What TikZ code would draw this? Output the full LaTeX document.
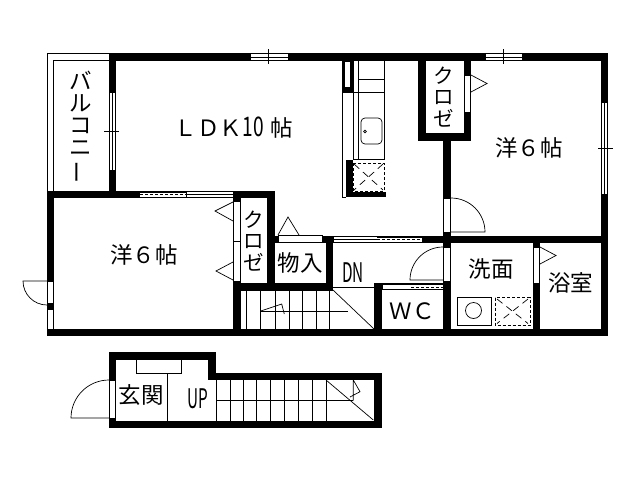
\documentclass[tikz,border=0pt]{standalone}
\usepackage{fontspec}
\newfontfamily\jpfont{Noto Sans CJK JP}
\newcommand{\halfw}[2][.68]{\scalebox{#1}[1.2]{#2}}
\newcommand{\tatebar}{\rotatebox[origin=c]{90}{ー}}
\tikzset{
	wall/.style={fill=black,draw=none},
	thin line/.style={draw=black,line width=.7pt},
	pane/.style={fill=white,draw=black,line width=.7pt},
	dash line/.style={draw=black,line width=.8pt,dash pattern=on 3pt off 2pt},
	cross line/.style={draw=black,line width=.7pt,dash pattern=on 7pt off 5pt},
	room/.style={font=\jpfont\fontsize{22.5}{22}\selectfont,inner sep=0pt,align=center},
	small room/.style={room,font=\jpfont\fontsize{20.5}{21.5}\selectfont},
}
\begin{document}
\begin{tikzpicture}[x=1pt,y=-1pt]
	\useasboundingbox[fill=white] (0,0) rectangle (640,480);
	% balcony
	\draw[thin line] (109,53.5) -- (47.5,53.5) -- (47.5,191);
	\draw[thin line] (109,60.5) -- (53.5,60.5) -- (53.5,191);
	% main walls
	\fill[wall] (109,53) rectangle (608,61);
	\fill[wall] (601,53) rectangle (608,336);
	\fill[wall] (47,329) rectangle (608,336);
	\fill[wall] (47,191) rectangle (54,336);
	\fill[wall] (109,53) rectangle (116,198);
	\fill[wall] (47,191) rectangle (275,198);
	\fill[wall] (233,191) rectangle (240.5,336);
	\fill[wall] (267,191) rectangle (275,291);
	\fill[wall] (233,283) rectangle (333,291);
	\fill[wall] (326,236) rectangle (333,291);
	\fill[wall] (275,236) rectangle (608,243);
	\fill[wall] (374,283) rectangle (382,336);
	\fill[wall] (382,283) rectangle (451,290);
	\fill[wall] (443,141) rectangle (451,336);
	\fill[wall] (418,61) rectangle (426,141);
	\fill[wall] (418,133) rectangle (471,141);
	\fill[wall] (464,61) rectangle (471,141);
	\fill[wall] (533,243) rectangle (540,336);
	% windows
	\foreach \xa/\xb/\xt in {250/288/268,485/522/503}{
		\filldraw[pane] (\xa,53.5) rectangle (\xb,60.5);
		\draw[thin line] (\xa,57) -- (\xb,57);
		\draw[thin line] (\xt,49) -- (\xt,64);
	}
	\filldraw[pane] (109.5,92) rectangle (115.5,170);
	\draw[thin line] (112.5,92) -- (112.5,170);
	\draw[thin line] (104,131) -- (119,131);
	\filldraw[pane] (601.5,102) rectangle (607.5,194);
	\draw[thin line] (604.5,102) -- (604.5,194);
	\draw[thin line] (598,148) -- (613,148);
	\foreach \xa/\xb/\ya in {186/233/191.5,333/377/236.5}{
		\filldraw[pane] (\xa,\ya) rectangle (\xb,\ya+6);
		\draw[thin line] (\xa,\ya+3) -- (\xb,\ya+3);
	}
	\fill[white] (140,192.5) rectangle (186,196.5);
	\draw[dash line] (140,194.5) -- (186,194.5);
	\fill[white] (377,237.5) rectangle (422,241.5);
	\draw[dash line] (377,239.5) -- (422,239.5);
	\filldraw[pane] (382,284) rectangle (411,289.5);
	\fill[white] (411,285) rectangle (443,289);
	\draw[dash line] (411,287) -- (443,287);
	% sliding doors
	\filldraw[pane] (233.5,201) rectangle (240,241.5);
	\filldraw[pane] (233.5,241.5) rectangle (240,281);
	\filldraw[pane] (278,235.5) rectangle (322,242);
	\filldraw[pane] (464.5,75) rectangle (470.5,112);
	\filldraw[pane] (443.5,198) rectangle (450.5,232);
	\filldraw[pane] (443.5,247) rectangle (450.5,281);
	\filldraw[pane] (533.5,247) rectangle (539.5,283);
	\filldraw[pane] (47.5,281) rectangle (53.5,303);
	\filldraw[pane] (47.5,309) rectangle (53.5,329);
	\draw[thin line] (233,202) -- (215,211) -- (233,221);
	\draw[thin line] (233,262) -- (216,271) -- (233,280);
	\draw[thin line] (278,235) -- (288,217) -- (299,235);
	\draw[thin line] (471,75) -- (487,83.5) -- (471,92);
	\draw[thin line] (540,247) -- (556,255.5) -- (540,264);
	% door swings
	\draw[thin line] (451,198) arc[start angle=270,end angle=360,radius=34] -- (451,232);
	\draw[thin line] (443,247) arc[start angle=270,end angle=180,radius=33] -- (443,280);
	\draw[thin line] (47,305) arc[start angle=90,end angle=180,radius=24] -- (47,281);
	% kitchen
	\draw[thin line] (343,61) rectangle (353,92);
	\fill[wall] (342,61) rectangle (345,92);
	\fill[wall] (350,61) rectangle (353,92);
	\fill[wall] (342,87) rectangle (353,92);
	\draw[thin line] (342.5,92) -- (342.5,197) -- (346,197);
	\draw[thin line] (353,92) rectangle (384,159.5);
	\draw[thin line] (358.5,61) -- (358.5,159.5);
	\draw[thin line] (384,61) -- (384,159.5);
	\draw[thin line] (358.5,79.5) -- (384,79.5);
	\draw[thin line,rounded corners=4pt] (361,118) rectangle (382,144);
	\draw[thin line] (365,131.5) circle (1.3);
	\fill[wall] (346,160) rectangle (352.5,197);
	\fill[wall] (346,192) rectangle (386,197);
	\draw[dash line] (353,163) rectangle (384,191);
	\draw[cross line] (354,164) -- (383,190);
	\draw[cross line] (383,164) -- (354,190);
	% washroom
	\draw[thin line] (457,297.5) rectangle (491.5,325);
	\draw[thin line] (473.5,310.5) circle (8);
	\draw[dash line] (495,297.5) rectangle (530,325);
	\draw[cross line] (497,299) -- (528,323.5);
	\draw[cross line] (528,299) -- (497,323.5);
	% upper stairs
	\foreach \xs in {246.7,260.7,275,289,302.7,316.7,329.3}{
		\draw[thin line] (\xs,291) -- (\xs,329);
	}
	\draw[thin line] (260.7,311.5) -- (348,311.5);
	\draw[thin line] (333,287.5) -- (374,287.5);
	\draw[thin line] (333,290) -- (374,329);
	\draw[thin line] (260.7,311) -- (281.7,304) -- (284.3,314);
	% entrance
	\fill[wall] (109,352) rectangle (216,360);
	\fill[wall] (109,352) rectangle (116,428);
	\fill[wall] (208,352) rectangle (216,380);
	\fill[wall] (208,373) rectangle (382,380);
	\fill[wall] (374,373) rectangle (382,428);
	\fill[wall] (109,421) rectangle (382,428);
	\filldraw[pane] (109.5,380) rectangle (115.5,418);
	\draw[thin line] (109,380) arc[start angle=270,end angle=180,radius=38] -- (109,418);
	\draw[thin line] (136.7,360) -- (136.7,373.3) -- (181,373.3) -- (181,360);
	\draw[thin line] (167.3,373.3) -- (167.3,421);
	\foreach \xs in {216,230,243.3,256.7,270.7,284.3,298.3,312.3,326}{
		\draw[thin line] (\xs,380) -- (\xs,421);
	}
	\draw[thin line] (216,400.7) -- (353,400.7);
	\draw[thin line] (326,380) -- (373.3,420);
	\draw[thin line] (353.3,400.7) -- (353.3,380) -- (360,391.7) -- (350,397);
	% labels
	\node[room] (balcony) at (81,127) {バ\\ル\\コ\\ニ\\\tatebar};
	\node[room] (ldk) at (234,128) {ＬＤＫ\halfw[.85]{10}\hspace{7pt}帖};
	\node[room] (westa) at (529,148) {洋６帖};
	\node[room] (westb) at (144,254.5) {洋６帖};
	\node[small room] (closeta) at (444,97) {ク\\ロ\\ゼ};
	\node[small room] (closetb) at (253.5,241) {ク\\ロ\\ゼ};
	\node[room] (storage) at (300,263) {物入};
	\node[room] (down) at (353,273) {\halfw{DN}};
	\node[room] (wc) at (412,311) {ＷＣ};
	\node[room] (wash) at (491,269) {洗面};
	\node[room] (bath) at (570.5,283) {浴室};
	\node[room] (entry) at (141,395) {玄関};
	\node[room] (up) at (198,399) {\halfw{UP}};
\end{tikzpicture}
\end{document}
